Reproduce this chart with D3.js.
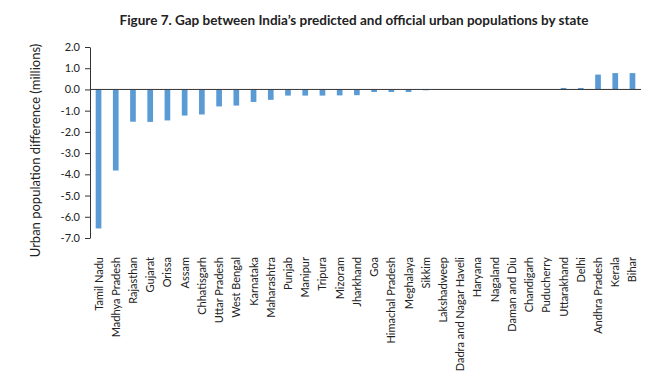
<!DOCTYPE html>
<html>
<head>
<meta charset="utf-8">
<script src="https://cdn.jsdelivr.net/npm/d3@7"></script>
<style>
    body { margin: 0; background: #fff; }
    text { font-family: Lato, "Open Sans", sans-serif; fill: #222; }
</style>
</head>
<body>
<div id="chart"></div>
<script>
// State names in the order they appear
const states = [
    "Tamil Nadu", "Madhya Pradesh", "Rajasthan", "Gujarat", "Orissa", "Assam",
    "Chhatisgarh", "Uttar Pradesh", "West Bengal", "Karnataka", "Maharashtra",
    "Punjab", "Manipur", "Tripura", "Mizoram", "Jharkhand", "Goa",
    "Himachal Pradesh", "Meghalaya", "Sikkim", "Lakshadweep",
    "Dadra and Nagar Haveli", "Haryana", "Nagaland", "Daman and Diu",
    "Chandigarh", "Puducherry", "Uttarakhand", "Delhi", "Andhra Pradesh",
    "Kerala", "Bihar",
];

// Gap in millions (predicted minus official)
const gaps = [
    -6.55, -3.82, -1.52, -1.53, -1.46, -1.23,
    -1.18, -0.80, -0.76, -0.59, -0.49,
    -0.29, -0.29, -0.29, -0.28, -0.27, -0.12,
    -0.12, -0.12, -0.04, -0.01,
    -0.01, -0.01, -0.01, 0.01,
    0.01, 0.01, 0.07, 0.07, 0.70,
    0.77, 0.77,
];

const yTicks = [2, 1, 0, -1, -2, -3, -4, -5, -6, -7];

const data = states.map((s, i) => ({ state: s, gap: gaps[i] }));

const width = 660;
const height = 387;
const margin = { top: 47, right: 19, bottom: 149, left: 90 };

const svg = d3
    .select("#chart")
    .append("svg")
    .attr("width", width)
    .attr("height", height);

// Title
svg.append("text")
    .attr("x", 354)
    .attr("y", 25)
    .attr("text-anchor", "middle")
    .style("font-size", "13.5px")
    .style("font-weight", "bold")
    .text("Figure 7. Gap between India\u2019s predicted and official urban populations by state");

const x = d3
    .scaleBand()
    .domain(states)
    .range([margin.left, width - margin.right])
    .paddingInner(0.67)
    .paddingOuter(0.33);

const y = d3
    .scaleLinear()
    .domain([-7, 2])
    .range([height - margin.bottom, margin.top]);

// Bars
svg.selectAll("rect.bar")
    .data(data)
    .enter()
    .append("rect")
    .attr("class", "bar")
    .attr("x", (d) => x(d.state))
    .attr("width", x.bandwidth())
    .attr("y", (d) => y(Math.max(0, d.gap)))
    .attr("height", (d) => Math.abs(y(d.gap) - y(0)))
    .attr("fill", "#5b9bd5");

// Y axis
const yAxis = svg
    .append("g")
    .attr("transform", `translate(${margin.left},0)`)
    .call(
        d3.axisLeft(y)
            .tickValues(yTicks)
            .tickFormat(d3.format(".1f"))
            .tickSize(5)
            .tickSizeOuter(0)
            .tickPadding(5)
    );
yAxis.select(".domain").attr("stroke", "#333");
yAxis.selectAll(".tick line").attr("stroke", "#333");
yAxis.selectAll(".tick text")
    .style("font-size", "11px")
    .attr("fill", "#222")
    .text((d) => d3.format(".1f")(d).replace("\u2212", "-"));

// Zero line (category axis)
svg.append("line")
    .attr("x1", margin.left)
    .attr("x2", width - margin.right)
    .attr("y1", y(0))
    .attr("y2", y(0))
    .attr("stroke", "#333")
    .attr("stroke-width", 1);

// Category labels, rotated
svg.selectAll("text.cat")
    .data(data)
    .enter()
    .append("text")
    .attr("class", "cat")
    .attr("transform", (d) =>
        `translate(${x(d.state) + x.bandwidth() / 2 + 4},${y(-7) + 19}) rotate(-90)`)
    .attr("text-anchor", "end")
    .style("font-size", "11px")
    .text((d) => d.state);

// Y axis title
svg.append("text")
    .attr("transform", `translate(40,${(margin.top + y(-7)) / 2 + 8}) rotate(-90)`)
    .attr("text-anchor", "middle")
    .style("font-size", "13px")
    .text("Urban population difference (millions)");
</script>
</body>
</html>
